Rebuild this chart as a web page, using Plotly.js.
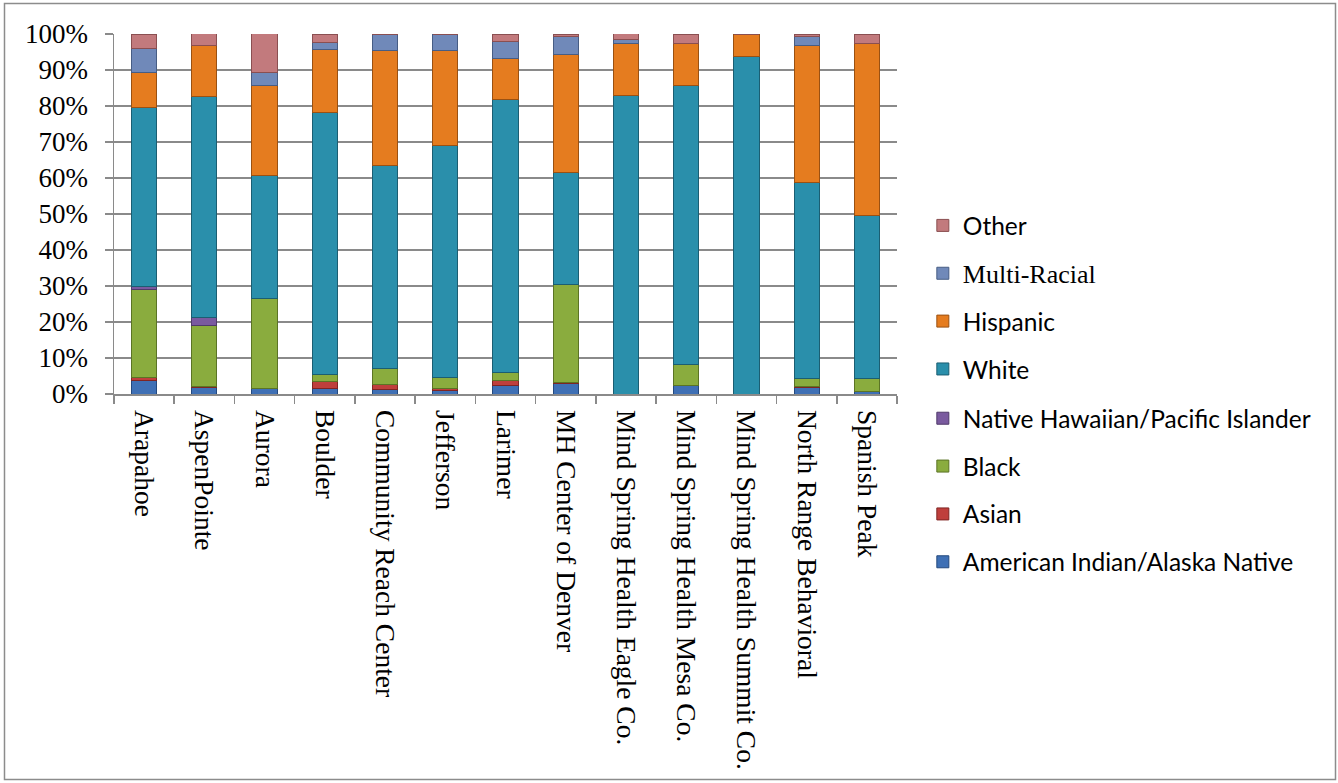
<!DOCTYPE html>
<html>
<head>
<meta charset="utf-8">
<script src="https://cdn.plot.ly/plotly-3.0.1.min.js"></script>
<style>
  html, body { margin: 0; padding: 0; background: #ffffff; }
  #chart { width: 1338px; height: 783px; }
</style>
</head>
<body>
<div id="chart"></div>
<script>
// Categories (x axis)
const categories = [
  "Arapahoe", "AspenPointe", "Aurora", "Boulder", "Community Reach Center",
  "Jefferson", "Larimer", "MH Center of Denver", "Mind Spring Health Eagle Co.",
  "Mind Spring Health Mesa Co.", "Mind Spring Health Summit Co.",
  "North Range Behavioral", "Spanish Peak"
];

// Series values (percent of each bar)
const americanIndian = [3.7, 1.7, 1.4, 1.6, 1.2, 1.0, 2.4, 2.8, 0.0, 2.4, 0.0, 1.7, 0.7];
const asian          = [0.8, 0.5, 0.2, 2.0, 1.4, 0.6, 1.3, 0.5, 0.0, 0.0, 0.0, 0.3, 0.0];
const black          = [24.5, 16.7, 25.0, 1.9, 4.4, 3.0, 2.4, 27.1, 0.0, 5.7, 0.0, 2.3, 3.5];
const nativeHawaiian = [1.0, 2.3, 0.0, 0.0, 0.0, 0.0, 0.0, 0.0, 0.0, 0.0, 0.0, 0.0, 0.0];
const white          = [49.5, 61.4, 34.0, 72.6, 56.6, 64.5, 75.6, 31.0, 82.9, 77.6, 93.8, 54.4, 45.4];
const hispanic       = [9.7, 14.3, 25.2, 17.6, 31.9, 26.3, 11.6, 32.9, 14.4, 11.6, 6.2, 38.1, 47.9];
const multiRacial    = [6.8, 0.0, 3.5, 2.0, 4.5, 4.5, 4.6, 5.1, 1.2, 0.0, 0.0, 2.4, 0.0];
const other          = [4.0, 3.2, 10.8, 2.3, 0.0, 0.0, 2.0, 0.6, 1.6, 2.7, 0.0, 0.8, 2.5];

// Y tick labels
const yTickVals = [0, 10, 20, 30, 40, 50, 60, 70, 80, 90, 100];
const yTickText = ["0%", "10%", "20%", "30%", "40%", "50%", "60%", "70%", "80%", "90%", "100%"];

const seriesNames = [
  "American Indian/Alaska Native", "Asian", "Black",
  "Native Hawaiian/Pacific Islander", "White", "Hispanic",
  '<span style="font-family:\'Liberation Serif\', serif;font-size:26px">Multi-Racial</span>', "Other"
];
const seriesValues = [americanIndian, asian, black, nativeHawaiian, white, hispanic, multiRacial, other];
const seriesColors = ["#3f70b5", "#bf3f3c", "#8aac3e", "#7a5a9f", "#2a8fab", "#e57c1f", "#7089b9", "#c27a7d"];
const seriesLines  = ["#24497e", "#7f2523", "#5b7425", "#4f3a6a", "#1b5e72", "#9a5112", "#475d84", "#8a4f51"];

const traces = seriesValues.map((vals, i) => ({
  type: "bar",
  name: seriesNames[i],
  legend: i >= 4 ? "legend" : "legend2",
  legendgroup: "g" + i,
  legendrank: 1000 - i * 10,
  x: categories,
  y: vals,
  width: 0.42,
  marker: { color: seriesColors[i], line: { color: seriesLines[i], width: 1 } },
  hoverinfo: "skip"
}));

const gridCol = "#8a8a8a";
const legendFont = { family: "Lato, 'Noto Sans', sans-serif", size: 24.5, color: "#000000" };
const legendCommon = {
  x: 1.033, xanchor: "left",
  yanchor: "top",
  traceorder: "grouped",
  tracegroupgap: 13,
  font: legendFont,
  bgcolor: "rgba(0,0,0,0)"
};

const layout = {
  width: 1338,
  height: 783,
  margin: { l: 114, r: 441, t: 34, b: 389, pad: 0 },
  paper_bgcolor: "#ffffff",
  plot_bgcolor: "#ffffff",
  barmode: "stack",
  showlegend: true,
  legend: Object.assign({}, legendCommon, { y: 0.5306 }),
  legend2: Object.assign({}, legendCommon, { y: -0.005 }),
  xaxis: {
    type: "category",
    tickangle: 90,
    tickson: "boundaries",
    ticks: "outside",
    ticklen: 8,
    tickcolor: gridCol,
    tickwidth: 1.5,
    showline: true,
    linecolor: gridCol,
    linewidth: 1.5,
    showgrid: false,
    ticklabelstandoff: 9,
    tickfont: { family: "'Liberation Serif', 'Times New Roman', serif", size: 27.5, color: "#000000" },
    fixedrange: true
  },
  yaxis: {
    range: [0, 100],
    tickvals: yTickVals,
    ticktext: yTickText,
    ticks: "outside",
    ticklen: 8,
    tickcolor: gridCol,
    tickwidth: 1.5,
    showline: true,
    linecolor: gridCol,
    linewidth: 1.5,
    showgrid: true,
    gridcolor: gridCol,
    gridwidth: 1.5,
    zeroline: false,
    ticklabelstandoff: 11,
    tickfont: { family: "'Liberation Serif', 'Times New Roman', serif", size: 27, color: "#000000" },
    fixedrange: true
  },
  shapes: [{
    type: "rect", xref: "paper", yref: "paper",
    x0: -0.13985, x1: 1.56003, y0: -1.07083, y1: 1.08472,
    line: { color: "#8c8c8c", width: 1.5 },
    fillcolor: "rgba(0,0,0,0)",
    layer: "below"
  }]
};

Plotly.newPlot("chart", traces, layout, { displayModeBar: false, staticPlot: true });
</script>
</body>
</html>
